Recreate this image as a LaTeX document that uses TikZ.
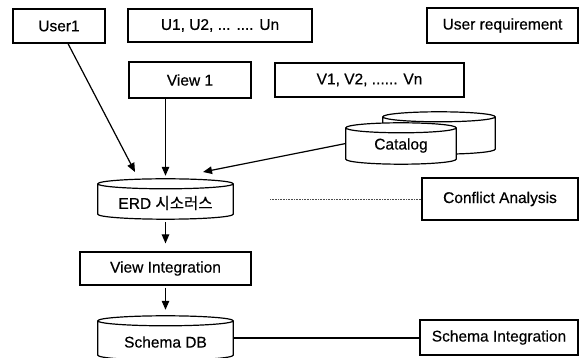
\documentclass[tikz,border=0pt]{standalone}
\usepackage{fontspec}
\setmainfont{Liberation Sans}[FakeBold=0.4]
\newfontfamily\krfont{Noto Sans CJK KR}[FakeBold=0.3]
\usetikzlibrary{arrows.meta,backgrounds,calc}
\tikzset{
  box/.style={draw, line width=1.2pt, fill=white, inner sep=0pt, font=\fontsize{15.5}{18}\selectfont},
  cylnode/.style={inner sep=0pt, font=\fontsize{15.5}{18}\selectfont},
  lab/.style={font=\fontsize{15.5}{18}\selectfont, inner sep=0pt},
  cylline/.style={draw, fill=white, line width=1.2pt},
  conn/.style={line width=1.2pt},
  arr/.style={conn, -{Triangle[length=9pt,width=7.5pt]}},
}
\newcommand\drawcyl[2][5pt]{%
  \path[cylline] let \p1=(#2.north west), \p2=(#2.south east), \n1={(\x2-\x1)/2} in
    (\x1,\y1-#1) -- (\x1,\y2+#1)
    arc[start angle=180,end angle=360,x radius=\n1,y radius=#1]
    -- (\x2,\y1-#1)
    arc[start angle=0,end angle=180,x radius=\n1,y radius=#1] -- cycle
    (\x1,\y1-#1) arc[start angle=180,end angle=360,x radius=\n1,y radius=#1];
}
\begin{document}
\begin{tikzpicture}[x=1pt,y=1pt]
\useasboundingbox (0,0) rectangle (583,358);

% rectangular boxes
\node[box, minimum width=92pt, minimum height=34pt] (user1) at (59,332) {User1};
\node[box, minimum width=184pt, minimum height=33pt] (users) at (220,332.5) {U1, U2, ... .... Un};
\node[box, minimum width=151pt, minimum height=35pt] (ureq) at (502.5,332.5) {User requirement};
\node[box, minimum width=122pt, minimum height=36pt] (view1) at (190,278) {View 1};
\node[box, minimum width=189pt, minimum height=34pt] (vs) at (369.5,278) {V1, V2, ...... Vn};
\node[box, minimum width=156pt, minimum height=42pt] (conflict) at (500,159) {Conflict Analysis};
\node[box, minimum width=171pt, minimum height=33pt] (vi) at (165.5,89.5) {View Integration};
\node[box, minimum width=158pt, minimum height=35pt] (schemaint) at (499,20.5) {Schema Integration};

% cylinder nodes
\node[cylnode, minimum width=112pt, minimum height=42pt] (catback) at (439,225) {};
\node[cylnode, minimum width=110pt, minimum height=41pt,
      label={[lab, yshift=-2pt]center:Catalog}] (catalog) at (401,214.5) {};
\node[cylnode, minimum width=135pt, minimum height=40pt,
      label={[lab, yshift=-4pt]center:ERD {\krfont 시소러스}}] (erd) at (165.5,159) {};
\node[cylnode, minimum width=135pt, minimum height=44pt,
      label={[lab, yshift=-4pt]center:Schema DB}] (schemadb) at (165.5,20) {};

\begin{scope}[on background layer]
  \drawcyl{catback}
  \drawcyl{catalog}
  \drawcyl{erd}
  \drawcyl{schemadb}
\end{scope}

% free ends
\coordinate (u1tip) at (135,186);
\coordinate (cattip) at (203,186);
\coordinate (dotstart) at (270,159);

% connectors
\draw[arr] ([xshift=9pt]user1.south) -- (u1tip);
\draw[arr] (catalog.west) -- (cattip);
\draw[arr, shorten >=3pt] (view1.south -| erd.north) -- (erd.north);
\draw[arr, shorten <=3pt, shorten >=8pt] (erd.south) -- (vi.north);
\draw[arr, shorten <=2pt, shorten >=6pt] (vi.south) -- (schemadb.north);
\draw[line width=0.6pt, densely dotted, black!70] (dotstart) -- (conflict.west);
\draw[conn] (schemadb.east) -- (schemadb.east -| schemaint.west);
\end{tikzpicture}
\end{document}
